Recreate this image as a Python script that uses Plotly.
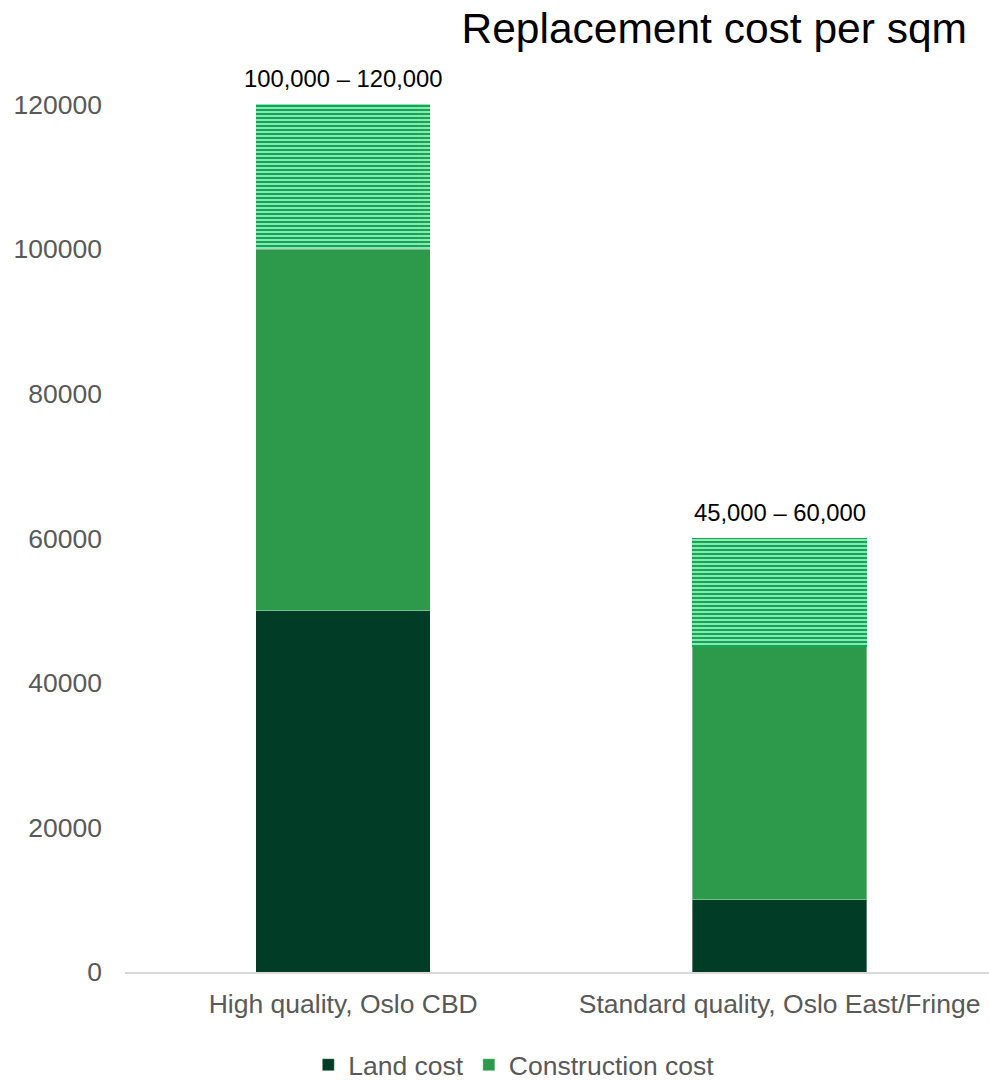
import plotly.graph_objects as go

# Replacement cost per sqm, NOK
categories = ["High quality, Oslo CBD", "Standard quality, Oslo East/Fringe"]
land_cost = [50000, 10000]
construction_cost = [50000, 35000]
range_spread = [20000, 15000]          # upper part of the cost range
range_labels = ["100,000 \u2013 120,000", "45,000 \u2013 60,000"]
y_ticks = [0, 20000, 40000, 60000, 80000, 100000, 120000]

LAND = "#013C27"
CONSTR = "#2C9A4A"
RANGE = "#00B050"
GREY = "#595959"
FONT = "Liberation Sans, Arial, sans-serif"

range_top = [l + c + r for l, c, r in zip(land_cost, construction_cost, range_spread)]

fig = go.Figure()
edge = dict(color="rgba(255,255,255,0.35)", width=1)
fig.add_trace(go.Bar(x=categories, y=land_cost, name="Land cost",
                     marker=dict(color=LAND, line=edge), width=0.4))
fig.add_trace(go.Bar(x=categories, y=construction_cost, name="Construction cost",
                     marker=dict(color=CONSTR, line=edge), width=0.4))
# range band: fine white horizontal dashes on bright green
fig.add_trace(go.Bar(x=categories, y=range_spread, showlegend=False, width=0.4,
                     marker=dict(color=RANGE, line=dict(width=0),
                                 pattern=dict(shape="-", fgcolor="white", bgcolor=RANGE,
                                              fgopacity=0.75, size=4, solidity=0.4))))

for cat, top, txt in zip(categories, range_top, range_labels):
    fig.add_annotation(x=cat, y=top, text=txt, showarrow=False, yanchor="middle",
                       yshift=26, font=dict(family=FONT, size=23.8, color="black"))

fig.update_layout(
    width=989, height=1081,
    margin=dict(l=125, r=0, t=90, b=109),
    barmode="stack",
    plot_bgcolor="white", paper_bgcolor="white",
    font=dict(family=FONT, color=GREY),
    title=dict(text="Replacement cost per sqm", xref="container", yref="container",
               x=967 / 989, xanchor="right", y=1 - 28 / 1081, yanchor="middle",
               font=dict(family=FONT, size=42.5, color="black")),
    xaxis=dict(range=[-0.5, 1.48], showline=True, linecolor="#D9D9D9", linewidth=2,
               ticks="", ticklabelstandoff=7, tickfont=dict(size=26.5, color=GREY),
               showgrid=False),
    yaxis=dict(range=[0, 122000], tickvals=y_ticks, tickformat="d", showgrid=False,
               zeroline=False, showline=False, ticks="", ticklabelstandoff=22,
               tickfont=dict(size=26.5, color=GREY)),
    legend=dict(orientation="h", x=0.45, xanchor="center",
                yref="container", y=1 - 1065 / 1081, yanchor="middle",
                font=dict(size=26.5, color=GREY), traceorder="normal", itemwidth=30),
)

fig.write_html("out.html")
